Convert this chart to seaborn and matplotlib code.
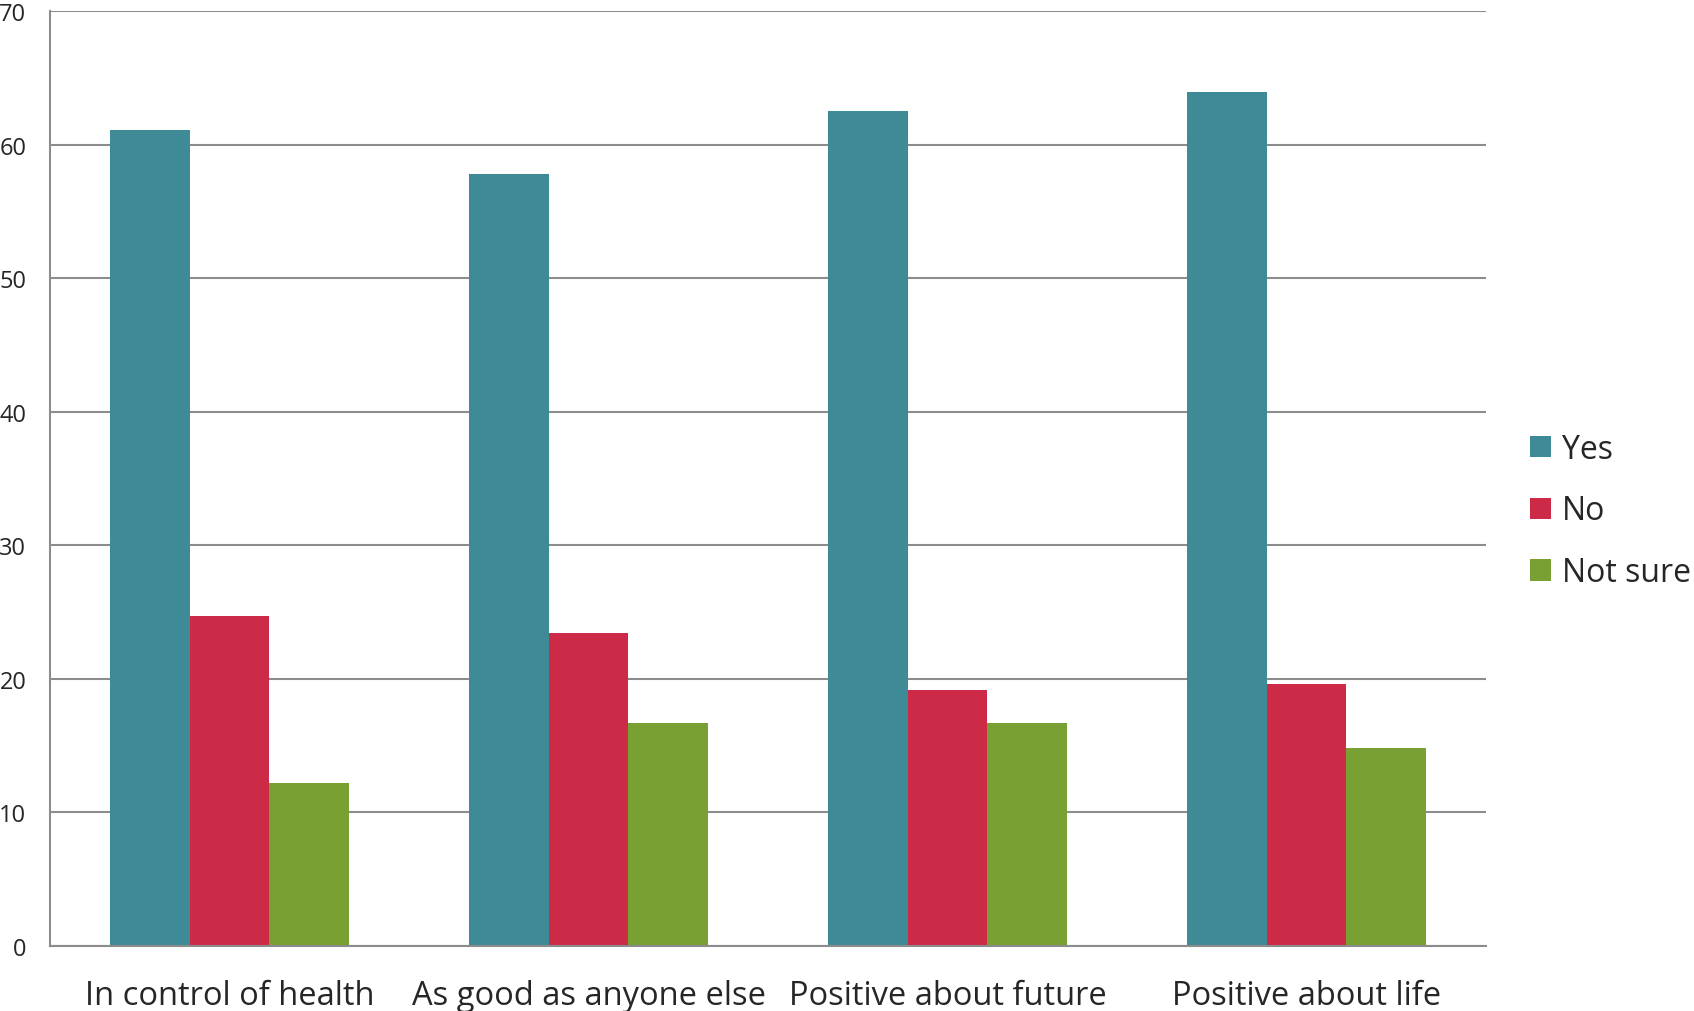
import pandas as pd
import seaborn as sns
import matplotlib.pyplot as plt

items = ["In control of health", "As good as anyone else", "Positive about future", "Positive about life"]
answers = ["Yes", "No", "Not sure"]
yes_vals = [61.1, 57.8, 62.5, 63.9]
no_vals = [24.7, 23.4, 19.2, 19.6]
notsure_vals = [12.2, 16.7, 16.7, 14.8]
colors = ["#3E8A96", "#CD2A48", "#78A032"]

rows = []
for ans, vals in zip(answers, [yes_vals, no_vals, notsure_vals]):
    for item, v in zip(items, vals):
        rows.append({"item": item, "answer": ans, "pct": v})
df = pd.DataFrame(rows)

sns.set_style("white")
plt.rcParams['font.family'] = ['Open Sans', 'DejaVu Sans']

fig = plt.figure(figsize=(16.94, 10.12), dpi=100)
ax = fig.add_axes([50 / 1694, 65 / 1012, 1436 / 1694, 935 / 1012])

sns.barplot(data=df, x="item", y="pct", hue="answer", palette=colors,
            width=0.667, saturation=1, ax=ax, errorbar=None, linewidth=0)

ax.set_ylim(0, 70)
ax.set_xlim(-0.5, 3.5)
ax.set_yticks(range(0, 71, 10))
ax.yaxis.grid(True, color="#8c8c8c", linewidth=1.5)
ax.set_axisbelow(True)
for s in ["top", "right"]:
    ax.spines[s].set_visible(False)
for s in ["left", "bottom"]:
    ax.spines[s].set_color("#8c8c8c")
    ax.spines[s].set_linewidth(1.5)
ax.set_xlabel("")
ax.set_ylabel("")
ax.tick_params(axis="y", length=6, width=1.5, color="#8c8c8c", pad=11, labelsize=17)
ax.tick_params(axis="x", which="major", length=0, pad=24, labelsize=23.5)
ax.set_xticks([-0.5, 0.5, 1.5, 2.5, 3.5], minor=True)
ax.tick_params(axis="x", which="minor", length=9, width=1.5, color="#8c8c8c")

ax.legend(loc="center left", bbox_to_anchor=(1501 / 1694, (1012 - 512) / 1012),
          bbox_transform=fig.transFigure, frameon=False, fontsize=23,
          handlelength=0.66, handleheight=0.66, handletextpad=0.35, labelspacing=0.9)

fig.savefig("out.png", dpi=100)
